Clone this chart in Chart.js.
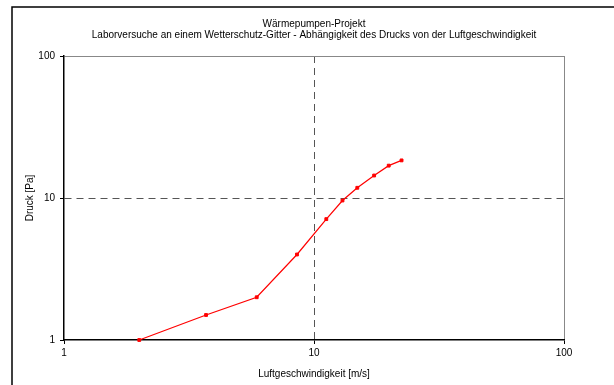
<!DOCTYPE html>
<html>
<head>
<meta charset="utf-8">
<script src="https://cdn.jsdelivr.net/npm/chart.js@4.4.0/dist/chart.umd.min.js"></script>
<style>
  html, body { margin: 0; padding: 0; background: #fff; overflow: hidden; }
  canvas { display: block; }
</style>
</head>
<body>
<canvas id="druckChart" width="614" height="385"></canvas>
<script>
const speed = [2.0, 3.7, 5.9, 8.55, 11.2, 13.0, 14.9, 17.4, 19.9, 22.4];
const pressure = [1.0, 1.5, 2.0, 4.0, 7.1, 9.6, 11.8, 14.4, 16.9, 18.4];
const xTicks = [1, 10, 100];
const yTicks = [1, 10, 100];

const titleText = 'Wärmepumpen-Projekt';
const subtitleText = 'Laborversuche an einem Wetterschutz-Gitter - Abhängigkeit des Drucks von der Luftgeschwindigkeit';

const FONT = 'Arial, "Liberation Sans", sans-serif';

// Rahmen + Titel
const framePlugin = {
  id: 'frame',
  beforeDraw(chart) {
    const ctx = chart.ctx;
    ctx.save();
    ctx.fillStyle = '#fff';
    ctx.fillRect(0, 0, chart.width, chart.height);
    ctx.strokeStyle = '#000';
    ctx.lineWidth = 1.5;
    ctx.beginPath();
    ctx.moveTo(12, chart.height);
    ctx.lineTo(12, 7);
    ctx.lineTo(chart.width, 7);
    ctx.stroke();
    ctx.restore();
  },
  afterDraw(chart) {
    const ctx = chart.ctx;
    const a = chart.chartArea;
    const cx = (a.left + a.right) / 2;
    ctx.save();
    ctx.fillStyle = '#000';
    ctx.textAlign = 'center';
    ctx.textBaseline = 'middle';
    ctx.font = '10px ' + FONT;
    ctx.fillText(titleText, cx, 24);
    ctx.fillText(subtitleText, cx, 35);
    ctx.restore();
  }
};

const gridColor = (c) => {
  if (!c.tick) return 'transparent';
  if (c.tick.value === 10) return '#555';
  if (c.tick.value === 100) return '#888';
  return 'transparent';
};
const gridDash = (c) => (c.tick && c.tick.value === 10) ? [7, 5] : [];

const ctx = document.getElementById('druckChart').getContext('2d');
new Chart(ctx, {
  type: 'line',
  data: {
    datasets: [{
      label: 'Druck',
      data: speed.map((v, i) => ({ x: v, y: pressure[i] })),
      borderColor: '#ff0000',
      backgroundColor: '#ff0000',
      borderWidth: 1.2,
      pointStyle: 'rect',
      pointRadius: 2,
      pointBorderWidth: 1,
      tension: 0,
      clip: false
    }]
  },
  options: {
    responsive: false,
    animation: false,
    devicePixelRatio: 1,
    layout: { padding: { left: 0, right: 50, top: 56, bottom: 0 } },
    plugins: {
      legend: { display: false },
      tooltip: { enabled: false }
    },
    scales: {
      x: {
        type: 'logarithmic',
        min: 1,
        max: 100,
        afterBuildTicks: (s) => { s.ticks = xTicks.map(v => ({ value: v })); },
        afterFit: (s) => { s.height = 45; },
        ticks: {
          color: '#000',
          font: { size: 10, family: FONT },
          padding: 3,
          maxRotation: 0,
          callback: (v) => String(v)
        },
        grid: {
          color: gridColor,
          lineWidth: 1,
          tickLength: 4,
          tickColor: '#000',
          tickWidth: 1
        },
        border: { color: '#000', width: 1.5, dash: gridDash },
        title: {
          display: true,
          text: 'Luftgeschwindigkeit [m/s]',
          color: '#000',
          font: { size: 10, family: FONT },
          padding: { top: 4, bottom: 5 }
        }
      },
      y: {
        type: 'logarithmic',
        min: 1,
        max: 100,
        afterBuildTicks: (s) => { s.ticks = yTicks.map(v => ({ value: v })); },
        afterFit: (s) => { s.width = 64; },
        ticks: {
          color: '#000',
          font: { size: 10, family: FONT },
          padding: 5,
          callback: (v) => String(v)
        },
        grid: {
          color: gridColor,
          lineWidth: 1,
          tickLength: 4,
          tickColor: '#000',
          tickWidth: 1
        },
        border: { color: '#000', width: 1.5, dash: gridDash },
        title: {
          display: true,
          text: 'Druck [Pa]',
          color: '#000',
          font: { size: 10, family: FONT },
          padding: { top: 24, bottom: 0 }
        }
      }
    }
  },
  plugins: [framePlugin]
});
</script>
</body>
</html>
